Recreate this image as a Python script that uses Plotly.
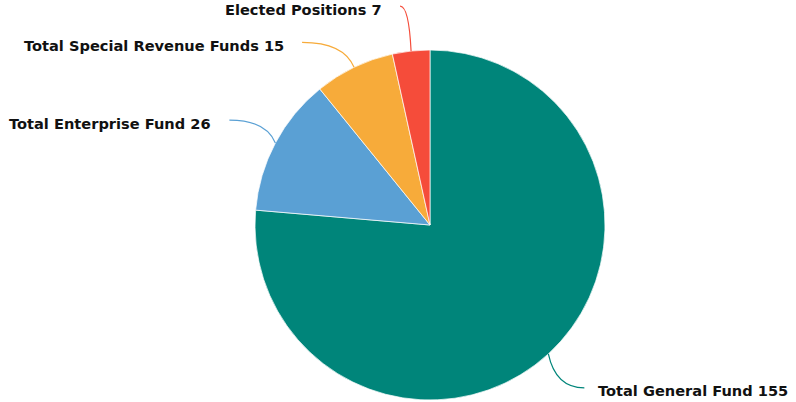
import math
import plotly.graph_objects as go

# Staffing by fund
labels = ["Total General Fund", "Total Enterprise Fund", "Total Special Revenue Funds", "Elected Positions"]
values = [155, 26, 15, 7]
colors = ["#00857A", "#5AA0D4", "#F7AB3A", "#F54C3A"]

W, H = 796, 402
CX, CY, R = 430, 225, 175  # pie centre and radius in pixels

# connector end offsets (px) from the slice edge
conn_offsets = [(36, 34), (-46, -23), (-52, -25), (-11, -45)]

fig = go.Figure(go.Pie(
    labels=labels,
    values=values,
    sort=False,
    direction="clockwise",
    rotation=0,
    marker=dict(colors=colors, line=dict(color="white", width=0.7)),
    textinfo="none",
    hoverinfo="label+value",
    showlegend=False,
    domain=dict(x=[(CX - R) / W, (CX + R) / W], y=[1 - (CY + R) / H, 1 - (CY - R) / H]),
))


def px(x, y):
    return x / W, 1 - y / H


total = sum(values)
cum = 0
shapes, annotations = [], []
for lab, val, col, (dx, dy) in zip(labels, values, colors, conn_offsets):
    mid = (cum + val / 2) / total * 2 * math.pi
    cum += val
    ex, ey = CX + R * math.sin(mid), CY - R * math.cos(mid)
    tx, ty = ex + dx, ey + dy
    qx, qy = ex + 0.2 * (tx - ex), ty
    p0, p1, p2 = px(ex, ey), px(qx, qy), px(tx, ty)
    shapes.append(dict(
        type="path", xref="paper", yref="paper",
        path=f"M {p0[0]},{p0[1]} Q {p1[0]},{p1[1]} {p2[0]},{p2[1]}",
        line=dict(color=col, width=1.2),
    ))
    right = tx > CX
    lx, ly = px(tx + (12 if right else -16), ty + 3)
    annotations.append(dict(
        x=lx, y=ly, xref="paper", yref="paper",
        text=f"{lab} {val}", showarrow=False,
        xanchor="left" if right else "right", yanchor="middle",
        font=dict(family="DejaVu Sans", size=14.6, color="#111111", weight="bold"),
    ))

fig.update_layout(
    width=W, height=H,
    margin=dict(l=0, r=0, t=0, b=0),
    paper_bgcolor="white",
    plot_bgcolor="white",
    shapes=shapes,
    annotations=annotations,
)

fig.write_html("out.html")
